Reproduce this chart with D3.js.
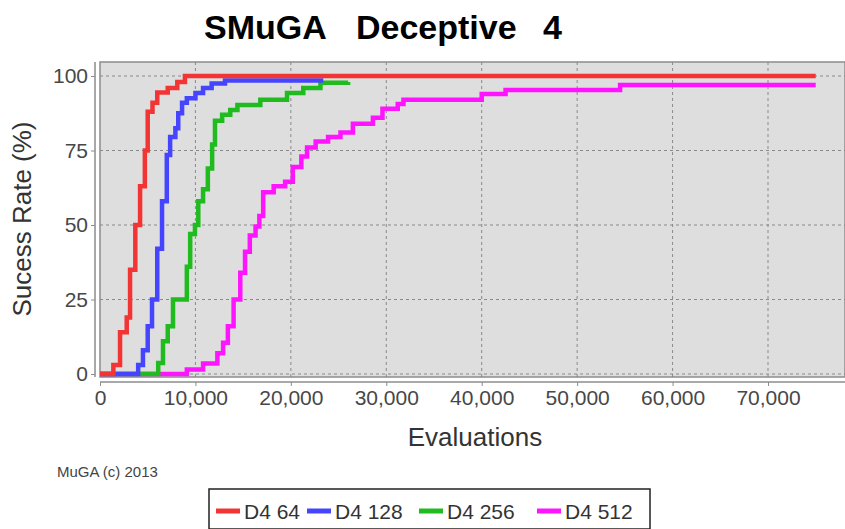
<!DOCTYPE html>
<html>
<head>
<meta charset="utf-8">
<script src="https://cdn.jsdelivr.net/npm/d3@7"></script>
<style>
  body { margin: 0; background: #fff; }
  svg { display: block; font-family: "Liberation Sans", Arial, sans-serif; }
</style>
</head>
<body>
<div id="chart"></div>
<script>
// data (evaluations vs success rate %)
var seriesNames = ["D4 64", "D4 128", "D4 256", "D4 512"];
var seriesColors = ["#f23434", "#4545ff", "#1fbb1f", "#ff14ff"];

var d4_64_x = [0, 1400, 2100, 2800, 3150, 3700, 4200, 4700, 5000, 5500, 6000, 7100, 8100, 8900, 75000];
var d4_64_y = [0, 3, 14, 19, 35, 50, 63, 75, 88, 91, 94.5, 96, 98, 100, 100];

var d4_128_x = [0, 4000, 4500, 5000, 5450, 6000, 6500, 7000, 7350, 7900, 8200, 8600, 9100, 10000, 10800, 11700, 13100, 23400];
var d4_128_y = [0, 3, 8, 16, 25, 42, 58, 73.5, 79.5, 82.5, 87.5, 91, 92.5, 94.3, 96, 97.5, 98.5, 98.5];

var d4_256_x = [0, 6100, 6600, 7100, 7650, 9100, 9450, 9950, 10300, 10800, 11300, 11750, 12050, 12800, 13650, 14400, 16800, 19600, 21300, 23100, 26000];
var d4_256_y = [0, 3.7, 11, 16, 25, 36, 47, 50, 58, 62, 69, 77, 85, 87, 88.6, 90.3, 92, 94.3, 96, 97.7, 98];

var d4_512_x = [0, 9100, 10800, 12300, 12900, 13400, 14000, 14700, 15200, 15700, 16300, 16700, 17100, 18200, 19400, 20200, 21100, 21700, 22600, 23900, 25200, 26500, 28600, 29600, 31200, 31800, 40000, 42500, 54500, 75000];
var d4_512_y = [0, 1.5, 3.5, 7, 10.5, 16, 25, 34, 41, 46.5, 49.5, 53, 61, 63, 64.5, 69.5, 73, 76, 78, 79.5, 81, 84, 86, 89, 90.6, 92, 94, 95.3, 97, 97];

var xTicks = [0, 10000, 20000, 30000, 40000, 50000, 60000, 70000];
var yTicks = [0, 25, 50, 75, 100];

var seriesX = [d4_64_x, d4_128_x, d4_256_x, d4_512_x];
var seriesY = [d4_64_y, d4_128_y, d4_256_y, d4_512_y];

var svgWidth = 845;
var svgHeight = 529;

var plot = { left: 100, top: 62, right: 845, bottom: 377 };

var svg = d3.select("#chart")
  .append("svg")
  .attr("width", svgWidth)
  .attr("height", svgHeight);

var x = d3.scaleLinear().domain([0, 70000]).range([100, 768]);
var y = d3.scaleLinear().domain([0, 100]).range([374, 76]);

// title
var title = svg.append("text")
  .attr("y", 39)
  .attr("font-size", "34px")
  .attr("font-weight", "bold")
  .attr("fill", "#000");
title.append("tspan").attr("x", 204).text("SMuGA");
title.append("tspan").attr("x", 356).text("Deceptive");
title.append("tspan").attr("x", 543).text("4");

// plot background
svg.append("rect")
  .attr("x", plot.left)
  .attr("y", plot.top)
  .attr("width", plot.right - plot.left)
  .attr("height", plot.bottom - plot.top)
  .attr("fill", "#dedede")
  .attr("stroke", "#8c8c8c")
  .attr("stroke-width", 1.5);

// grid lines
var grid = svg.append("g").attr("stroke", "#8a8a8a").attr("stroke-width", 1).attr("stroke-dasharray", "3,3");
grid.selectAll(".vg").data(xTicks.slice(1)).enter()
  .append("line")
  .attr("x1", d => x(d)).attr("x2", d => x(d))
  .attr("y1", plot.top).attr("y2", plot.bottom);
grid.selectAll(".hg").data(yTicks).enter()
  .append("line")
  .attr("x1", plot.left).attr("x2", plot.right)
  .attr("y1", d => y(d)).attr("y2", d => y(d));

// series, last one drawn first so red ends on top
var line = d3.line()
  .x(d => x(d[0]))
  .y(d => y(d[1]))
  .curve(d3.curveStepAfter);

for (var i = seriesNames.length - 1; i >= 0; i--) {
  var pts = seriesX[i].map((v, j) => [v, seriesY[i][j]]);
  svg.append("path")
    .datum(pts)
    .attr("fill", "none")
    .attr("stroke", seriesColors[i])
    .attr("stroke-width", 4.5)
    .attr("d", line);
}

// axes
var bottomAxis = d3.axisBottom(x).tickValues(xTicks).tickSize(4).tickSizeOuter(0)
  .tickFormat(d3.format(","));
var xAxis = svg.append("g")
  .attr("transform", "translate(0, 382)")
  .call(bottomAxis);
xAxis.select(".domain").attr("d", "M" + plot.left + ",0H" + plot.right);

var leftAxis = d3.axisLeft(y).tickValues(yTicks).tickSize(4).tickSizeOuter(0);
var yAxis = svg.append("g")
  .attr("transform", "translate(95, 0)")
  .call(leftAxis);
yAxis.select(".domain").attr("d", "M0," + plot.top + "V" + plot.bottom);

[xAxis, yAxis].forEach(function(a) {
  a.select(".domain").attr("stroke", "#8c8c8c").attr("stroke-width", 1.5);
  a.selectAll(".tick line").attr("stroke", "#8c8c8c");
  a.selectAll(".tick text")
    .attr("font-family", "Liberation Sans, Arial, sans-serif")
    .attr("font-size", "21px")
    .attr("fill", "#474747");
});
xAxis.selectAll(".tick text").attr("y", 8);
yAxis.selectAll(".tick text").attr("x", -7);

// axis labels
svg.append("text")
  .attr("transform", "translate(31, 219) rotate(-90)")
  .attr("text-anchor", "middle")
  .attr("font-size", "26px")
  .attr("fill", "#333")
  .text("Sucess Rate (%)");

svg.append("text")
  .attr("x", 475)
  .attr("y", 446)
  .attr("text-anchor", "middle")
  .attr("font-size", "26px")
  .attr("fill", "#333")
  .text("Evaluations");

svg.append("text")
  .attr("x", 57)
  .attr("y", 477)
  .attr("font-size", "15px")
  .attr("fill", "#444")
  .text("MuGA (c) 2013");

// legend
var legend = svg.append("g");
legend.append("rect")
  .attr("x", 209).attr("y", 489)
  .attr("width", 441).attr("height", 40)
  .attr("fill", "#fff")
  .attr("stroke", "#222")
  .attr("stroke-width", 1.5);

var legendX = [216, 307, 419, 537];
seriesNames.forEach(function(name, i) {
  legend.append("line")
    .attr("x1", legendX[i]).attr("x2", legendX[i] + 24)
    .attr("y1", 511).attr("y2", 511)
    .attr("stroke", seriesColors[i])
    .attr("stroke-width", 5);
  legend.append("text")
    .attr("x", legendX[i] + 28)
    .attr("y", 519)
    .attr("font-size", "21px")
    .attr("fill", "#333")
    .text(name);
});
</script>
</body>
</html>
